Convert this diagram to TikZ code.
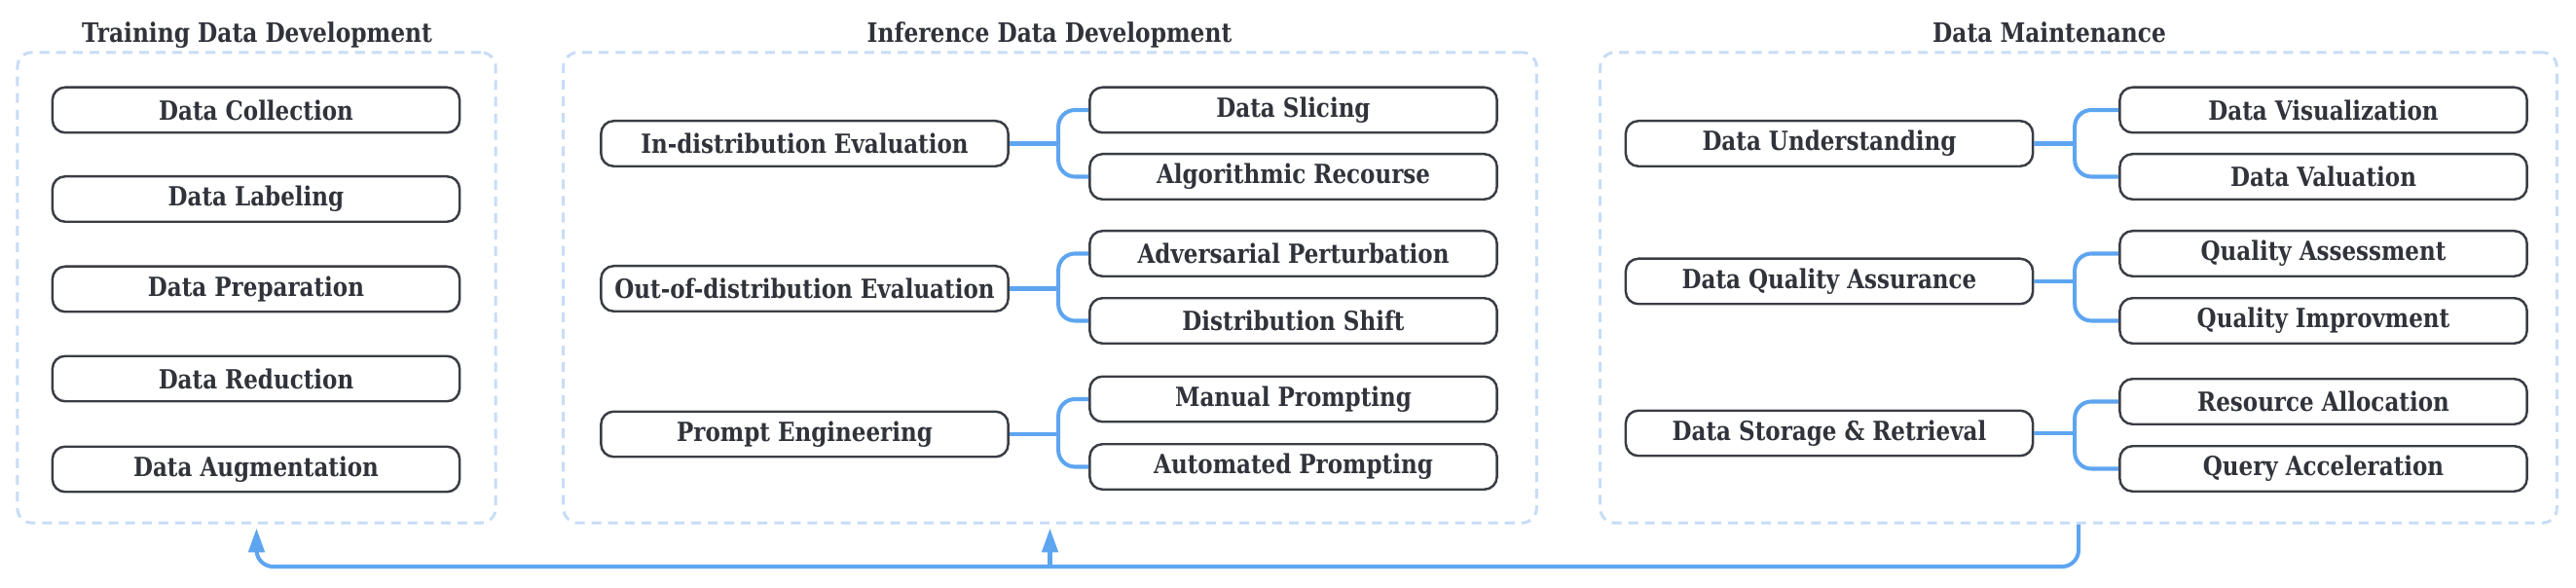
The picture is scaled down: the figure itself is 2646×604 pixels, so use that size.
\documentclass[tikz,border=0pt]{standalone}
\usepackage{fontspec}
\setmainfont{DejaVu Serif}[FakeStretch=0.85]
\usetikzlibrary{arrows.meta}
\definecolor{txt}{HTML}{30333A}
\definecolor{bord}{HTML}{3A3D44}
\definecolor{conn}{HTML}{5EA5F0}
\definecolor{dashc}{HTML}{C8DCF6}
\begin{document}
\begin{tikzpicture}[x=0.01cm,y=-0.01cm,
  item/.style={draw=bord, line width=0.7pt, rounded corners=1.3mm, minimum width=4.18cm, minimum height=0.465cm, inner sep=0pt, font=\fontsize{7.7}{8}\selectfont\bfseries, text=txt},
  panel/.style={draw=dashc, line width=0.85pt, dash pattern=on 2.85pt off 2pt, rounded corners=1.5mm, inner sep=0pt},
  ttl/.style={font=\fontsize{7.8}{8}\selectfont\bfseries, text=txt, inner sep=0pt, anchor=base},
  link/.style={draw=conn, line width=1.15pt, rounded corners=1.7mm},
  tip/.style={-{Triangle[length=7pt,width=4.6pt]}}]
\useasboundingbox (0,0) rectangle (2646,604);

% panels
\node[panel, minimum width=4.91cm, minimum height=4.83cm] (tdd) at (263.5,295.5) {};
\node[panel, minimum width=9.99cm, minimum height=4.83cm] (idd) at (1078.5,295.5) {};
\node[panel, minimum width=9.82cm, minimum height=4.83cm] (dm) at (2135,295.5) {};

\node[ttl] (t1) at (264,44) {Training Data Development};
\node[ttl] (t2) at (1078,44) {Inference Data Development};
\node[ttl] (t3) at (2105,44) {Data Maintenance};

% left panel
\node[item] (dc) at (263,113) {Data Collection};
\node[item] (dl) at (263,204.5) {Data Labeling};
\node[item] (dp) at (263,297) {Data Preparation};
\node[item] (dr) at (263,389) {Data Reduction};
\node[item] (da) at (263,482) {Data Augmentation};

% middle panel
\node[item] (ide) at (826.5,147.5) {In-distribution Evaluation};
\node[item] (ode) at (826.5,296.5) {Out-of-distribution Evaluation};
\node[item] (pe) at (826.5,446) {Prompt Engineering};
\node[item] (ds) at (1328.5,113) {Data Slicing};
\node[item] (ar) at (1328.5,181.5) {Algorithmic Recourse};
\node[item] (ap) at (1328.5,260.5) {Adversarial Perturbation};
\node[item] (dsh) at (1328.5,329.5) {Distribution Shift};
\node[item] (mp) at (1328.5,410) {Manual Prompting};
\node[item] (atp) at (1328.5,479.5) {Automated Prompting};

% right panel
\node[item] (du) at (1879,147.5) {Data Understanding};
\node[item] (dqa) at (1879,289) {Data Quality Assurance};
\node[item] (dsr) at (1879,445) {Data Storage \& Retrieval};
\node[item] (dv) at (2386.5,113) {Data Visualization};
\node[item] (dval) at (2386.5,181.5) {Data Valuation};
\node[item] (qa) at (2386.5,260.5) {Quality Assessment};
\node[item] (qi) at (2386.5,329.5) {Quality Improvment};
\node[item] (ra) at (2386.5,412.5) {Resource Allocation};
\node[item] (qac) at (2386.5,481.5) {Query Acceleration};

% brackets
\coordinate (b1) at ([xshift=-3.1mm]ds.west);
\coordinate (b2) at ([xshift=-3.1mm]ap.west);
\coordinate (b3) at ([xshift=-3.1mm]mp.west);
\coordinate (b4) at ([xshift=-4.5mm]dv.west);
\coordinate (b5) at ([xshift=-4.5mm]qa.west);
\coordinate (b6) at ([xshift=-4.5mm]ra.west);

\draw[link] (ide.east) -- (ide.east -| b1);
\draw[link] (ds.west) -- (ds.west -| b1) -- (ar.west -| b1) -- (ar.west);
\draw[link] (ode.east) -- (ode.east -| b2);
\draw[link] (ap.west) -- (ap.west -| b2) -- (dsh.west -| b2) -- (dsh.west);
\draw[link] (pe.east) -- (pe.east -| b3);
\draw[link] (mp.west) -- (mp.west -| b3) -- (atp.west -| b3) -- (atp.west);

\draw[link] (du.east) -- (du.east -| b4);
\draw[link] (dv.west) -- (dv.west -| b4) -- (dval.west -| b4) -- (dval.west);
\draw[link] (dqa.east) -- (dqa.east -| b5);
\draw[link] (qa.west) -- (qa.west -| b5) -- (qi.west -| b5) -- (qi.west);
\draw[link] (dsr.east) -- (dsr.east -| b6);
\draw[link] (ra.west) -- (ra.west -| b6) -- (qac.west -| b6) -- (qac.west);

% feedback arrows
\coordinate (base) at (0,582);
\draw[link, tip] (dm.south) -- (dm.south |- base) -- (tdd.south |- base) -- ([yshift=-0.4mm]tdd.south);
\draw[link, tip, rounded corners=0pt] (idd.south |- base) -- ([yshift=-0.4mm]idd.south);
\end{tikzpicture}
\end{document}
